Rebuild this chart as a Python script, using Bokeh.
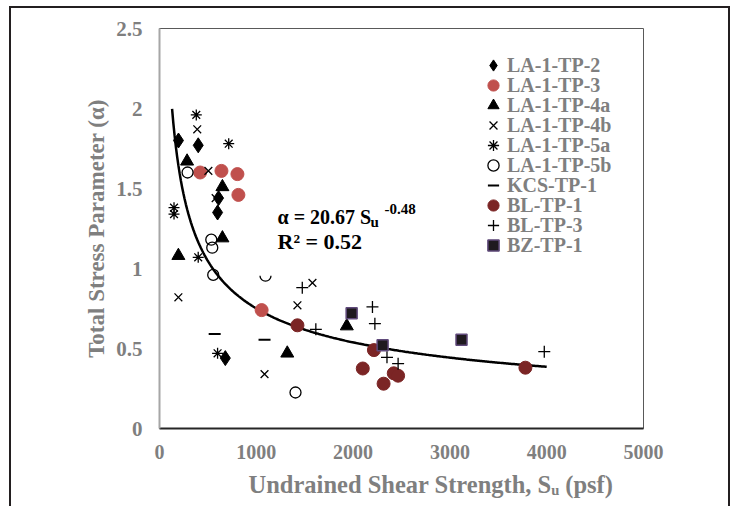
import numpy as np
from bokeh.plotting import figure
from bokeh.models import FixedTicker, Label, Legend, LegendItem, BoxAnnotation, Range1d, Title
from bokeh.embed import file_html
from bokeh.resources import INLINE

# ---------------- data ----------------
la1_tp2_su = [196, 400, 610, 600, 680]
la1_tp2_alpha = [1.80, 1.77, 1.44, 1.35, 0.44]

la1_tp3_su = [420, 640, 805, 815, 1055]
la1_tp3_alpha = [1.60, 1.61, 1.59, 1.46, 0.74]

la1_tp4a_su = [285, 650, 650, 195, 1320, 1935]
la1_tp4a_alpha = [1.67, 1.51, 1.19, 1.08, 0.47, 0.64]

la1_tp4b_su = [390, 505, 580, 195, 1085, 1425, 1580]
la1_tp4b_alpha = [1.87, 1.61, 1.44, 0.82, 0.34, 0.77, 0.91]

la1_tp5a_su = [380, 715, 150, 150, 400, 600]
la1_tp5a_alpha = [1.96, 1.78, 1.38, 1.34, 1.07, 0.47]

la1_tp5b_su = [290, 535, 545, 555, 1095, 1405]
la1_tp5b_alpha = [1.60, 1.18, 1.13, 0.96, 0.955, 0.225]

kcs_tp1_su = [570, 1085]
kcs_tp1_alpha = [0.59, 0.555]

bl_tp1_su = [1425, 2215, 2100, 2315, 2420, 2465, 3780]
bl_tp1_alpha = [0.645, 0.49, 0.375, 0.28, 0.345, 0.33, 0.38]

bl_tp3_su = [1475, 1615, 2200, 2225, 2350, 2465, 3975]
bl_tp3_alpha = [0.88, 0.62, 0.76, 0.655, 0.445, 0.405, 0.48]

bz_tp1_su = [1985, 2305, 3120]
bz_tp1_alpha = [0.72, 0.52, 0.555]

# power-law trend line shown on the chart: alpha = 20.67 * Su^-0.48
fit_a = 20.67
fit_b = -0.48
fit_su_min = 130
fit_su_max = 4000

x_ticks = [0, 1000, 2000, 3000, 4000, 5000]
y_ticks = [0, 0.5, 1, 1.5, 2, 2.5]
y_tick_labels = ["0", "0.5", "1", "1.5", "2", "2.5"]

GRAY = "#7f7f7f"
FONT = "Liberation Serif"

p = figure(width=721, height=500, output_backend="svg", toolbar_location=None,
           x_range=Range1d(0, 5000), y_range=Range1d(0, 2.5),
           min_border_left=148, min_border_right=89, min_border_top=20,
           min_border_bottom=80)
p.styles = {"margin-left": "9px", "margin-top": "6px",
            "border-top": "2px solid #231f20", "border-left": "2px solid #231f20",
            "border-right": "2px solid #231f20"}
p.xgrid.visible = False
p.ygrid.visible = False
p.outline_line_color = "#595959"
p.outline_line_width = 1

for ax in (p.xaxis[0], p.yaxis[0]):
    ax.major_tick_line_color = None
    ax.minor_tick_line_color = None
    ax.major_tick_out = 0
    ax.major_tick_in = 0
    ax.minor_tick_out = 0
    ax.major_label_text_font = FONT
    ax.major_label_text_font_style = "bold"
    ax.major_label_text_font_size = "20px"
    ax.major_label_text_color = GRAY

p.xaxis.ticker = FixedTicker(ticks=x_ticks)
p.yaxis.ticker = FixedTicker(ticks=y_ticks)
p.yaxis.major_label_overrides = {t: l for t, l in zip(y_ticks, y_tick_labels)}
p.yaxis.major_label_text_font_size = "21px"
p.xaxis.axis_line_color = "#262626"
p.xaxis.axis_line_width = 2
p.yaxis.axis_line_color = "#a6a6a6"
p.yaxis.axis_line_width = 2
p.yaxis.major_label_standoff = 17
p.xaxis.major_label_standoff = 16

p.yaxis.axis_label = "Total Stress Parameter (\u03b1)"
p.yaxis.axis_label_text_font = FONT
p.yaxis.axis_label_text_font_style = "bold"
p.yaxis.axis_label_text_font_size = "23px"
p.yaxis.axis_label_text_color = GRAY
p.yaxis.axis_label_standoff = 4

# x axis title (with subscript u) placed below the axis
p.add_layout(Title(text="Undrained Shear Strength, S\u1d64 (psf)", align="left", offset=89,
                   standoff=14, text_font=FONT, text_font_style="bold",
                   text_font_size="24.5px", text_color=GRAY), "below")

# trend line (drawn beneath markers)
fit_su = np.linspace(fit_su_min, fit_su_max, 300)
fit_alpha = fit_a * fit_su ** fit_b
p.line(fit_su, fit_alpha, line_color="black", line_width=2.5)

renderers = []
r = p.scatter(la1_tp2_su, la1_tp2_alpha, marker="diamond", size=15, fill_color="black", line_color="black")
renderers.append(("LA-1-TP-2", r))
r = p.scatter(la1_tp3_su, la1_tp3_alpha, marker="circle", size=13, fill_color="#c0504d", line_color="#c0504d")
renderers.append(("LA-1-TP-3", r))
r = p.scatter(la1_tp4a_su, la1_tp4a_alpha, marker="triangle", size=13, fill_color="black", line_color="black")
renderers.append(("LA-1-TP-4a", r))
r = p.scatter(la1_tp4b_su, la1_tp4b_alpha, marker="x", size=11, line_color="black", line_width=1.3)
renderers.append(("LA-1-TP-4b", r))
r = p.scatter(la1_tp5a_su, la1_tp5a_alpha, marker="asterisk", size=11, line_color="black", line_width=1.3)
renderers.append(("LA-1-TP-5a", r))
r = p.scatter(la1_tp5b_su, la1_tp5b_alpha, marker="circle", size=11, fill_color=None, line_color="black", line_width=1.3)
renderers.append(("LA-1-TP-5b", r))
r = p.scatter(kcs_tp1_su, kcs_tp1_alpha, marker="dash", size=12, line_color="black", line_width=2)
renderers.append(("KCS-TP-1", r))
r = p.scatter(bl_tp1_su, bl_tp1_alpha, marker="circle", size=13, fill_color="#7b2525", line_color="#7b2525")
renderers.append(("BL-TP-1", r))
r = p.scatter(bl_tp3_su, bl_tp3_alpha, marker="cross", size=12, line_color="black", line_width=1.3)
renderers.append(("BL-TP-3", r))
r = p.scatter(bz_tp1_su, bz_tp1_alpha, marker="square", size=11, fill_color="#1f1a1f", line_color="#604a7b", line_width=1.5)
renderers.append(("BZ-TP-1", r))

# one small legend box per entry, stacked with a 20px pitch
legend_x = 320
legend_top_y = 349
legend_pitch = 20
for i, (name, rr) in enumerate(renderers):
    lg = Legend(items=[LegendItem(label=name, renderers=[rr])],
                location=(legend_x, legend_top_y - legend_pitch * i),
                padding=0, margin=0, spacing=0,
                glyph_width=28, glyph_height=28, label_height=20, label_standoff=0,
                border_line_color=None, background_fill_alpha=0,
                label_text_font=FONT, label_text_font_style="bold",
                label_text_font_size="20px", label_text_color=GRAY)
    p.add_layout(lg)

# white text box of the equation (covers part of a marker in the original)
p.add_layout(BoxAnnotation(left=1000, right=2650, bottom=0.955, top=1.45,
                           fill_color="white", fill_alpha=1, line_color=None))

eq_x = 1219
eq_y1 = 1.325
eq_y2 = 1.169
common = dict(text_font=FONT, text_font_style="bold", text_color="black",
              text_align="left", text_baseline="alphabetic")
p.add_layout(Label(x=eq_x, y=eq_y1, text="\u03b1 = 20.67 S", text_font_size="20px", **common))
p.add_layout(Label(x=eq_x, y=eq_y1, x_offset=93, y_offset=-5, text="u", text_font_size="15px", **common))
p.add_layout(Label(x=eq_x, y=eq_y1, x_offset=107, y_offset=8, text="-0.48", text_font_size="15px", **common))
p.add_layout(Label(x=eq_x, y=eq_y2, text="R\u00b2 = 0.52", text_font_size="22px", **common))

open("out.html", "w").write(file_html(p, INLINE))
